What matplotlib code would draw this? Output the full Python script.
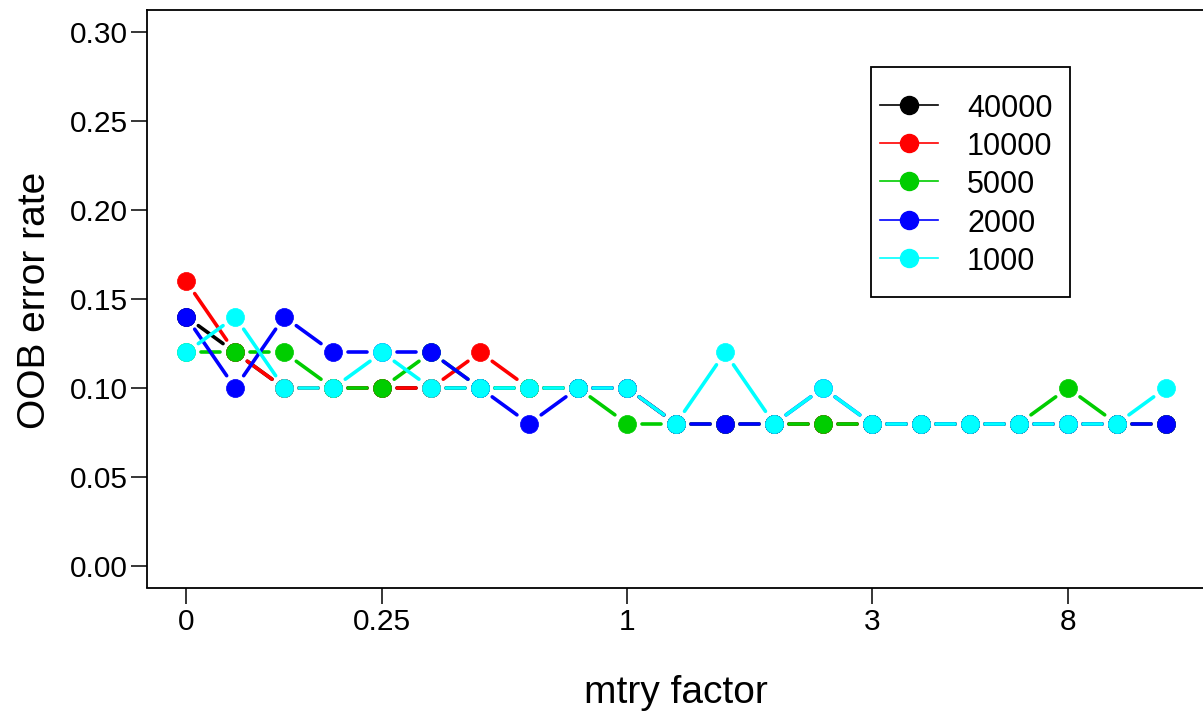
import numpy as np
import matplotlib.pyplot as plt
from matplotlib.lines import Line2D
from matplotlib.patches import Rectangle

plt.rcParams['font.family'] = ['Liberation Sans', 'DejaVu Sans']

# mtry steps (index positions), labelled ticks
x_idx = np.arange(21)
tick_pos = [0, 4, 9, 14, 18]
tick_labels = ['0', '0.25', '1', '3', '8']

ntree_labels = ['40000', '10000', '5000', '2000', '1000']
colors = ['black', '#FF0000', '#00CD00', '#0000FF', '#00FFFF']

err_40000 = [0.14, 0.12, 0.10, 0.10, 0.10, 0.10, 0.10, 0.10, 0.10, 0.10, 0.08,
             0.08, 0.08, 0.08, 0.08, 0.08, 0.08, 0.08, 0.08, 0.08, 0.08]
err_10000 = [0.16, 0.12, 0.10, 0.10, 0.10, 0.10, 0.12, 0.10, 0.10, 0.10, 0.08,
             0.08, 0.08, 0.08, 0.08, 0.08, 0.08, 0.08, 0.08, 0.08, 0.08]
err_5000 = [0.12, 0.12, 0.12, 0.10, 0.10, 0.12, 0.10, 0.10, 0.10, 0.08, 0.08,
            0.08, 0.08, 0.08, 0.08, 0.08, 0.08, 0.08, 0.10, 0.08, 0.08]
err_2000 = [0.14, 0.10, 0.14, 0.12, 0.12, 0.12, 0.10, 0.08, 0.10, 0.10, 0.08,
            0.08, 0.08, 0.10, 0.08, 0.08, 0.08, 0.08, 0.08, 0.08, 0.08]
err_1000 = [0.12, 0.14, 0.10, 0.10, 0.12, 0.10, 0.10, 0.10, 0.10, 0.10, 0.08,
            0.12, 0.08, 0.10, 0.08, 0.08, 0.08, 0.08, 0.08, 0.08, 0.10]
series = [err_40000, err_10000, err_5000, err_2000, err_1000]

W, H = 1203, 716
fig = plt.figure(figsize=(W / 100, H / 100), dpi=100)
ax = fig.add_axes([147 / W, 1 - 587.5 / H, 1058 / W, 577 / H])
ax.set_xlim(-0.8, 20.8)
ax.set_ylim(-0.012, 0.312)


def gapped_lines(ax, x, y, color, z, gap=15):
    # R type="b": segments stop short of the points
    pts = ax.transData.transform(np.column_stack([x, y]))
    inv = ax.transData.inverted()
    for p, q in zip(pts[:-1], pts[1:]):
        d = q - p
        L = np.hypot(*d)
        if L <= 2 * gap:
            continue
        u = d / L
        a = inv.transform(p + u * gap)
        b = inv.transform(q - u * gap)
        ax.plot([a[0], b[0]], [a[1], b[1]], color=color, lw=2.6,
                solid_capstyle='round', zorder=z)


for i, (vals, c) in enumerate(zip(series, colors)):
    gapped_lines(ax, x_idx, vals, c, z=3 + 2 * i)
    ax.plot(x_idx, vals, ls='none', marker='o', ms=13, mfc=c, mec=c,
            mew=0.5, zorder=4 + 2 * i)

ax.set_xticks(tick_pos)
ax.set_xticklabels(tick_labels)
ax.set_yticks(np.arange(0, 0.31, 0.05))
ax.set_yticklabels([f'{v:.2f}' for v in np.arange(0, 0.31, 0.05)])
ax.tick_params(axis='both', labelsize=21.5, length=11.5, width=1.1, direction='out')
ax.tick_params(axis='y', pad=2.5)
ax.tick_params(axis='x', pad=3.5)
for s in ax.spines.values():
    s.set_linewidth(1.3)

fig.text(676 / W, 1 - 693 / H, 'mtry factor', fontsize=28, ha='center', va='center')
fig.text(35 / W, 1 - 300 / H, 'OOB error rate', fontsize=28, ha='center',
         va='center', rotation=90)

handles = [Line2D([], [], color=c, lw=1.2, marker='o', ms=13, mfc=c, mec=c)
           for c in colors]
leg = ax.legend(handles, ntree_labels, loc='upper left', frameon=False,
                bbox_to_anchor=(880 / W, 1 - 93 / H), bbox_transform=fig.transFigure,
                borderpad=0, borderaxespad=0, fontsize=22, handlelength=1.9,
                handletextpad=0.95, labelspacing=0.23, handleheight=1.0)
leg.set_zorder(20)
fig.patches.append(Rectangle((871 / W, 1 - 297 / H), 199 / W, 230 / H,
                             transform=fig.transFigure, fill=False,
                             edgecolor='black', lw=1.3, zorder=20))

fig.savefig('out.png', dpi=100)
